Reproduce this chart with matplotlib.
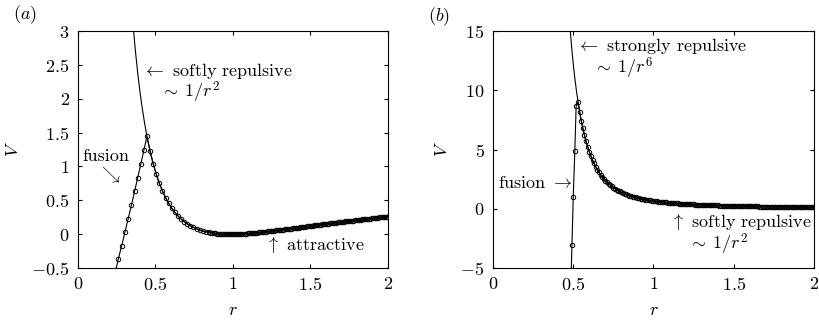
import warnings
warnings.filterwarnings('ignore')
import matplotlib
matplotlib.use("Agg")
import matplotlib.pyplot as plt

plt.rcParams['font.family'] = 'cmr10'
plt.rcParams['mathtext.fontset'] = 'cm'
plt.rcParams['axes.unicode_minus'] = False
plt.rcParams['axes.formatter.use_mathtext'] = True

# ---------------- panel (a) data ----------------
# repulsive branch above the fusion peak (line only)
ra_up = [0.355, 0.37, 0.385, 0.40, 0.415, 0.43]
va_up = [3.1, 2.718, 2.388, 2.102, 1.854, 1.636]
# fusion branch (markers)
ra_fus = [0.240, 0.260, 0.282, 0.303, 0.324, 0.345, 0.365, 0.385, 0.405, 0.425]
va_fus = [-0.57, -0.37, -0.17, 0.03, 0.23, 0.43, 0.63, 0.83, 1.03, 1.24]
# decaying part after the peak
ra_near = [0.445, 0.465, 0.485, 0.505, 0.525, 0.545, 0.565, 0.585, 0.605, 0.625,
           0.645, 0.665, 0.685, 0.705, 0.725, 0.745, 0.765, 0.785, 0.805, 0.825, 0.845]
va_near = [1.445, 1.227, 1.042, 0.885, 0.751, 0.637, 0.54, 0.456, 0.384, 0.323,
           0.27, 0.224, 0.185, 0.152, 0.124, 0.1, 0.079, 0.062, 0.047, 0.035, 0.026]
ra_far = [0.855, 0.865, 0.875, 0.885, 0.895, 0.905, 0.915, 0.925, 0.935, 0.945,
          0.955, 0.965, 0.975, 0.985, 0.995, 1.005, 1.015, 1.025, 1.035, 1.045,
          1.055, 1.065, 1.075, 1.085, 1.095, 1.105, 1.115, 1.125, 1.135, 1.145,
          1.155, 1.165, 1.175, 1.185, 1.195, 1.205, 1.215, 1.225, 1.235, 1.245,
          1.255, 1.265, 1.275, 1.285, 1.295, 1.305, 1.315, 1.325, 1.335, 1.345,
          1.355, 1.365, 1.375, 1.385, 1.395, 1.405, 1.415, 1.425, 1.435, 1.445,
          1.455, 1.465, 1.475, 1.485, 1.495, 1.505, 1.515, 1.525, 1.535, 1.545,
          1.555, 1.565, 1.575, 1.585, 1.595, 1.605, 1.615, 1.625, 1.635, 1.645,
          1.655, 1.665, 1.675, 1.685, 1.695, 1.705, 1.715, 1.725, 1.735, 1.745,
          1.755, 1.765, 1.775, 1.785, 1.795, 1.805, 1.815, 1.825, 1.835, 1.845,
          1.855, 1.865, 1.875, 1.885, 1.895, 1.905, 1.915, 1.925, 1.935, 1.945,
          1.955, 1.965, 1.975, 1.985, 1.995, 2.005]
va_far = [0.021, 0.018, 0.014, 0.012, 0.009, 0.007, 0.005, 0.004, 0.002, 0.001,
          0.001, 0.0, 0.0, 0.0, 0.0, 0.001, 0.001, 0.002, 0.003, 0.004,
          0.005, 0.006, 0.008, 0.009, 0.011, 0.013, 0.015, 0.017, 0.019, 0.021,
          0.023, 0.025, 0.028, 0.03, 0.032, 0.035, 0.037, 0.04, 0.043, 0.045,
          0.048, 0.051, 0.054, 0.056, 0.059, 0.062, 0.065, 0.068, 0.071, 0.074,
          0.077, 0.08, 0.083, 0.086, 0.089, 0.092, 0.095, 0.098, 0.101, 0.104,
          0.107, 0.11, 0.113, 0.116, 0.119, 0.122, 0.125, 0.128, 0.131, 0.134,
          0.137, 0.14, 0.143, 0.146, 0.149, 0.152, 0.155, 0.158, 0.16, 0.163,
          0.166, 0.169, 0.172, 0.175, 0.178, 0.181, 0.184, 0.187, 0.189, 0.192,
          0.195, 0.198, 0.201, 0.203, 0.206, 0.209, 0.212, 0.214, 0.217, 0.22,
          0.222, 0.225, 0.228, 0.231, 0.233, 0.236, 0.238, 0.241, 0.244, 0.246,
          0.249, 0.251, 0.254, 0.256, 0.259, 0.261]

# ---------------- panel (b) data ----------------
rb_up = [0.48, 0.49, 0.50, 0.51, 0.52]
vb_up = [15.252, 13.642, 12.24, 11.015, 9.942]
rb_fus = [0.484, 0.492, 0.500, 0.510, 0.518]
vb_fus = [-7.1, -3.06, 1.02, 4.9, 8.67]
rb_tail = [0.53, 0.54, 0.55, 0.56, 0.57, 0.58, 0.59, 0.60, 0.61, 0.62,
           0.63, 0.64, 0.65, 0.66, 0.67, 0.68, 0.69, 0.70, 0.71, 0.72,
           0.73, 0.74, 0.75, 0.76, 0.77, 0.78, 0.79, 0.80, 0.81, 0.82,
           0.83, 0.84, 0.85, 0.86, 0.87, 0.88, 0.89, 0.90, 0.91, 0.92,
           0.93, 0.94, 0.95, 0.96, 0.97, 0.98, 0.99, 1.00, 1.01, 1.02,
           1.03, 1.04, 1.05, 1.06, 1.07, 1.08, 1.09, 1.10, 1.11, 1.12,
           1.13, 1.14, 1.15, 1.16, 1.17, 1.18, 1.19, 1.20, 1.21, 1.22,
           1.23, 1.24, 1.25, 1.26, 1.27, 1.28, 1.29, 1.30, 1.31, 1.32,
           1.33, 1.34, 1.35, 1.36, 1.37, 1.38, 1.39, 1.40, 1.41, 1.42,
           1.43, 1.44, 1.45, 1.46, 1.47, 1.48, 1.49, 1.50, 1.51, 1.52,
           1.53, 1.54, 1.55, 1.56, 1.57, 1.58, 1.59, 1.60, 1.61, 1.62,
           1.63, 1.64, 1.65, 1.66, 1.67, 1.68, 1.69, 1.70, 1.71, 1.72,
           1.73, 1.74, 1.75, 1.76, 1.77, 1.78, 1.79, 1.80, 1.81, 1.82,
           1.83, 1.84, 1.85, 1.86, 1.87, 1.88, 1.89, 1.90, 1.91, 1.92,
           1.93, 1.94, 1.95, 1.96, 1.97, 1.98, 1.99, 2.00]
vb_tail = [8.999, 8.168, 7.433, 6.782, 6.204, 5.689, 5.23, 4.818, 4.449, 4.118,
           3.819, 3.549, 3.305, 3.084, 2.883, 2.7, 2.533, 2.38, 2.241, 2.113,
           1.996, 1.887, 1.788, 1.696, 1.611, 1.532, 1.459, 1.392, 1.329, 1.27,
           1.215, 1.164, 1.116, 1.072, 1.03, 0.99, 0.953, 0.918, 0.886, 0.855,
           0.825, 0.798, 0.772, 0.747, 0.723, 0.701, 0.68, 0.66, 0.641, 0.623,
           0.605, 0.589, 0.573, 0.558, 0.543, 0.529, 0.516, 0.504, 0.491, 0.48,
           0.468, 0.458, 0.447, 0.437, 0.428, 0.418, 0.409, 0.401, 0.392, 0.384,
           0.377, 0.369, 0.362, 0.355, 0.348, 0.342, 0.335, 0.329, 0.323, 0.317,
           0.312, 0.306, 0.301, 0.296, 0.291, 0.286, 0.281, 0.276, 0.272, 0.267,
           0.263, 0.259, 0.255, 0.251, 0.247, 0.243, 0.24, 0.236, 0.233, 0.229,
           0.226, 0.223, 0.22, 0.217, 0.214, 0.211, 0.208, 0.205, 0.202, 0.199,
           0.197, 0.194, 0.192, 0.189, 0.187, 0.184, 0.182, 0.18, 0.177, 0.175,
           0.173, 0.171, 0.169, 0.167, 0.165, 0.163, 0.161, 0.159, 0.157, 0.155,
           0.154, 0.152, 0.15, 0.148, 0.147, 0.145, 0.143, 0.142, 0.14, 0.139,
           0.137, 0.136, 0.134, 0.133, 0.132, 0.13, 0.129, 0.128]

x_ticks = [0, 0.5, 1, 1.5, 2]
x_labels = ['$0$', '$0.5$', '$1$', '$1.5$', '$2$']
ya_ticks = [-0.5, 0, 0.5, 1, 1.5, 2, 2.5, 3]
ya_labels = ['$-0.5$', '$0$', '$0.5$', '$1$', '$1.5$', '$2$', '$2.5$', '$3$']
yb_ticks = [-5, 0, 5, 10, 15]
yb_labels = ['$-5$', '$0$', '$5$', '$10$', '$15$']

fig = plt.figure(figsize=(8.2, 3.2), dpi=100)
axa = fig.add_axes([0.0951, 0.1625, 0.378, 0.7406])
axb = fig.add_axes([0.6012, 0.1625, 0.3915, 0.7406])

FS = 13
panels = [
    (axa, ra_up, va_up, ra_near + ra_far, va_near + va_far, ra_fus, va_fus),
    (axb, rb_up, vb_up, rb_tail, vb_tail, rb_fus, vb_fus),
]
for ax, rup, vup, rt, vt, rf, vf in panels:
    ax.plot(rup + rt, vup + vt, color='black', lw=0.8)
    ax.plot(rf + rt, vf + vt, color='black', lw=0.8,
            marker='o', ms=3.2, mfc='none', mec='black', mew=0.7)
    ax.set_xlim(0, 2)
    ax.tick_params(direction='in', top=True, right=True, length=3,
                   labelsize=FS, pad=6)
    ax.set_xticks(x_ticks)
    ax.set_xticklabels(x_labels)
    ax.set_xlabel('$r$', fontsize=FS)
    ax.set_ylabel('$V$', fontsize=FS)
    ax.xaxis.set_label_coords(0.5, -0.145)

axa.yaxis.set_label_coords(-0.185, 0.5)
axb.yaxis.set_label_coords(-0.135, 0.5)

axa.set_ylim(-0.5, 3)
axa.set_yticks(ya_ticks)
axa.set_yticklabels(ya_labels)
axb.set_ylim(-5, 15)
axb.set_yticks(yb_ticks)
axb.set_yticklabels(yb_labels)

axa.text(0.41, 2.41, r'$\leftarrow$ softly repulsive', fontsize=FS, ha='left', va='center')
axa.text(0.53, 2.10, r'$\sim\;1/r^2$', fontsize=FS, ha='left', va='center')
axa.text(0.028, 1.15, 'fusion', fontsize=FS, ha='left', va='center')
axa.text(0.205, 0.87, r'$\searrow$', fontsize=FS, ha='center', va='center')
axa.text(1.205, -0.16, r'$\uparrow$ attractive', fontsize=FS, ha='left', va='center')
fig.text(0.016, 0.953, '$(a)$', fontsize=FS, ha='left', va='center')

axb.text(0.52, 13.75, r'$\leftarrow$ strongly repulsive', fontsize=FS, ha='left', va='center')
axb.text(0.62, 11.85, r'$\sim\;1/r^6$', fontsize=FS, ha='left', va='center')
axb.text(0.03, 2.17, r'fusion $\rightarrow$', fontsize=FS, ha='left', va='center')
axb.text(1.10, -1.12, r'$\uparrow$ softly repulsive', fontsize=FS, ha='left', va='center')
axb.text(1.213, -3.0, r'$\sim\;1/r^2$', fontsize=FS, ha='left', va='center')
fig.text(0.522, 0.947, '$(b)$', fontsize=FS, ha='left', va='center')

fig.savefig('out.png', dpi=100)
